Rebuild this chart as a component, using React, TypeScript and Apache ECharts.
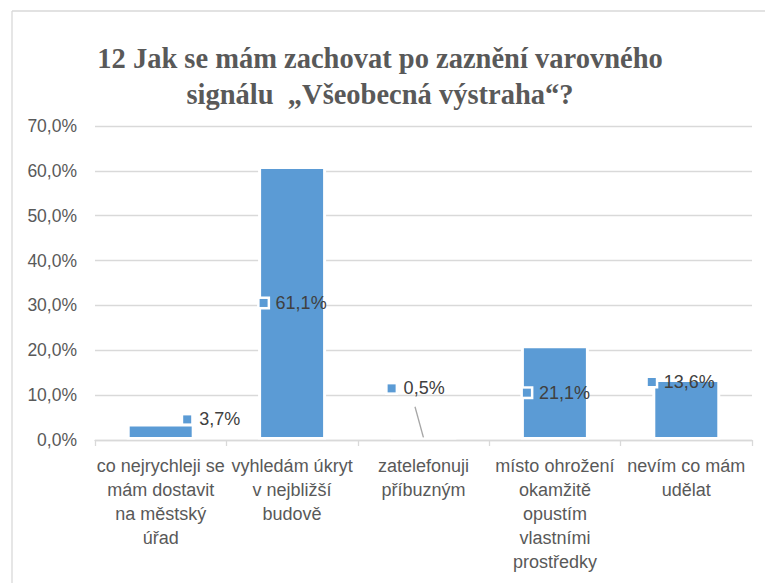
import React, { useEffect, useRef } from "react";
import * as echarts from "echarts";

const titleText = "12 Jak se mám zachovat po zaznění varovného\nsignálu  „Všeobecná výstraha“?";
const categories = [
  "co nejrychleji se\nmám dostavit\nna městský\núřad",
  "vyhledám úkryt\nv nejbližší\nbudově",
  "zatelefonuji\npříbuzným",
  "místo ohrožení\nokamžitě\nopustím\nvlastními\nprostředky",
  "nevím co mám\nudělat",
];
const values = [3.7, 61.1, 0.5, 21.1, 13.6];
const yMin = 0;
const yMax = 70;
const yInterval = 10;

// label placement relative to each bar's rectangle (layout only)
const labelPlacement: any[] = [
  [56.5, -4],
  [1.5, "50%"],
  [-1.5, -49],
  [2, "50%"],
  [-4.5, 3],
];

const fmt = (v: number) => v.toFixed(1).replace(".", ",") + "%";

const BLUE = "#5b9bd5";
const GRID = "#d9d9d9";
const SANS = "'Liberation Sans', Arial, sans-serif";

export default function App() {
  const ref = useRef<HTMLDivElement>(null);
  useEffect(() => {
    if (!ref.current) return;
    const chart = echarts.init(ref.current, undefined, { renderer: "svg" });
    chart.setOption({
      animation: false,
      backgroundColor: "#ffffff",
      title: {
        text: titleText,
        left: 375,
        top: 35,
        textAlign: "center",
        textStyle: {
          fontFamily: "'Liberation Serif', 'DejaVu Serif', serif",
          fontWeight: "bold",
          fontSize: 28.5,
          lineHeight: 36,
          color: "#595959",
        },
      },
      grid: { left: 95, top: 126, width: 657, height: 314, containLabel: false },
      xAxis: {
        type: "category",
        data: categories,
        z: 5,
        axisLine: { show: true, lineStyle: { color: GRID, width: 1.3 } },
        axisTick: { show: true, interval: 0, length: 6, lineStyle: { color: GRID, width: 1.3 } },
        axisLabel: {
          interval: 0,
          margin: 14,
          fontFamily: SANS,
          fontSize: 18,
          lineHeight: 24,
          color: "#595959",
          align: "center",
        },
        splitLine: { show: false },
      },
      yAxis: {
        type: "value",
        min: yMin,
        max: yMax,
        interval: yInterval,
        axisLine: { show: false },
        axisTick: { show: false },
        axisLabel: {
          margin: 18,
          fontFamily: SANS,
          fontSize: 17.5,
          color: "#595959",
          formatter: (v: number) => fmt(v),
        },
        splitLine: { show: true, lineStyle: { color: GRID, width: 1.3 } },
      },
      series: [
        {
          type: "bar",
          barWidth: 68,
          itemStyle: { color: BLUE, borderColor: "#ffffff", borderWidth: 3 },
          data: values.map((v, i) => ({
            value: v,
            label: {
              show: true,
              position: labelPlacement[i],
              align: "left",
              verticalAlign: "middle",
              formatter: `{m|}{g|}{t|${fmt(v)}}`,
              rich: {
                m: {
                  width: 8,
                  height: 8,
                  backgroundColor: BLUE,
                  borderColor: "#ffffff",
                  borderWidth: 2.5,
                },
                g: { width: 8 },
                t: {
                  fontFamily: SANS,
                  fontSize: 18,
                  color: "#404040",
                },
              },
            },
          })),
        },
      ],
      graphic: [],
    });
    const p = chart.convertToPixel({ seriesIndex: 0 }, [2, values[2]]) as number[];
    chart.setOption({
      graphic: [
        {
          type: "line",
          silent: true,
          shape: { x1: 12, y1: 11, x2: 765, y2: 11 },
          style: { stroke: GRID, lineWidth: 1.3 },
        },
        {
          type: "line",
          silent: true,
          shape: { x1: 12, y1: 11, x2: 12, y2: 583 },
          style: { stroke: GRID, lineWidth: 1.3 },
        },
        {
          type: "line",
          silent: true,
          shape: { x1: p[0] - 8.5, y1: p[1] - 31, x2: p[0], y2: p[1] },
          style: { stroke: "#a6a6a6", lineWidth: 1.3 },
        },
      ],
    });
    return () => chart.dispose();
  }, []);
  return (
    <div
      ref={ref}
      style={{ position: "fixed", left: 0, top: 0, width: 765, height: 583, background: "#fff" }}
    />
  );
}
